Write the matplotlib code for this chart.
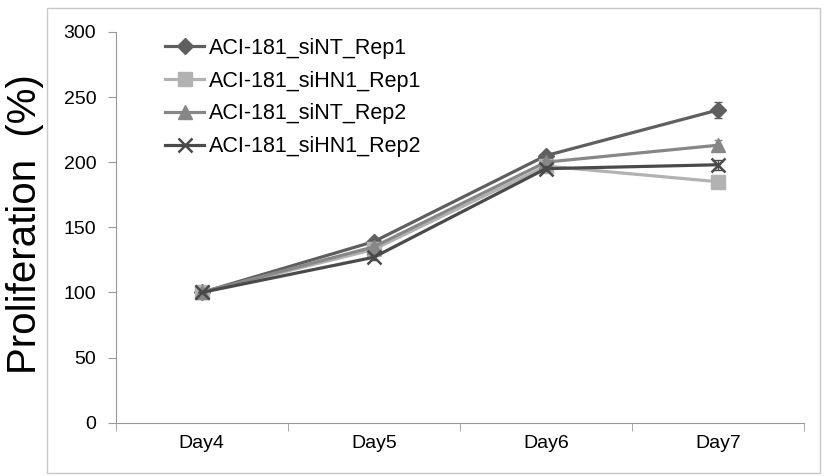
import numpy as np
import matplotlib.pyplot as plt
from matplotlib.patches import Rectangle

plt.rcParams['font.family'] = ['Liberation Sans', 'DejaVu Sans']

days = ['Day4', 'Day5', 'Day6', 'Day7']
labels = ['ACI-181_siNT_Rep1', 'ACI-181_siHN1_Rep1', 'ACI-181_siNT_Rep2', 'ACI-181_siHN1_Rep2']
nt_rep1 = [100, 139, 205, 240]
hn1_rep1 = [100, 133, 197, 185]
nt_rep2 = [100, 135, 200, 213]
hn1_rep2 = [100, 127, 195, 198]
nt_rep1_err = [0, 2, 2, 6]
hn1_rep1_err = [0, 2, 2, 3]
nt_rep2_err = [0, 2, 2, 4]
hn1_rep2_err = [0, 2, 2, 4]

series = [nt_rep1, hn1_rep1, nt_rep2, hn1_rep2]
errs = [nt_rep1_err, hn1_rep1_err, nt_rep2_err, hn1_rep2_err]
colors = ['#5f5f5f', '#b2b2b2', '#878787', '#4a4a4a']
markers = ['D', 's', '^', 'x']
msizes = [8, 10, 10, 10]

fig = plt.figure(figsize=(8.27, 4.76), dpi=100)
ax = fig.add_axes([0.140, 0.112, 0.832, 0.821])

# light frame around the chart area
fig.patches.append(Rectangle((47 / 827, 3 / 476), 773 / 827, 465 / 476,
                             transform=fig.transFigure, fill=False,
                             edgecolor='#c8c8c8', linewidth=1))

x = np.arange(len(days))
for vals, err, c, m, ms, lab in zip(series, errs, colors, markers, msizes, labels):
    ax.errorbar(x, vals, yerr=err, color=c, fmt='none', capsize=3, elinewidth=1)
    ax.plot(x, vals, color=c, marker=m, markersize=ms,
            markeredgewidth=1.8 if m == 'x' else 1, linewidth=2.3, label=lab)

ax.set_xlim(-0.5, 3.5)
ax.set_ylim(0, 300)
ax.set_yticks(range(0, 301, 50))
ax.set_xticks(x)
ax.set_xticklabels(days)
ax.set_xticks([-0.5, 0.5, 1.5, 2.5, 3.5], minor=True)
ax.tick_params(axis='x', which='major', length=0, pad=9, labelsize=14)
ax.tick_params(axis='x', which='minor', length=6, color='#999999', direction='out')
ax.tick_params(axis='y', length=6, color='#999999', direction='out', labelsize=14, pad=8)

for s in ['top', 'right']:
    ax.spines[s].set_visible(False)
for s in ['left', 'bottom']:
    ax.spines[s].set_color('#999999')

ax.set_ylabel('Proliferation  (%)', fontsize=29)
ax.yaxis.set_label_coords(-0.105, 0.508)

ax.legend(loc='upper left', bbox_to_anchor=(0.071, 0.985), frameon=False,
          borderaxespad=0, borderpad=0,
          fontsize=15.5, handlelength=1.85, handletextpad=0.2, labelspacing=0.55)

fig.savefig('out.png', dpi=100)
